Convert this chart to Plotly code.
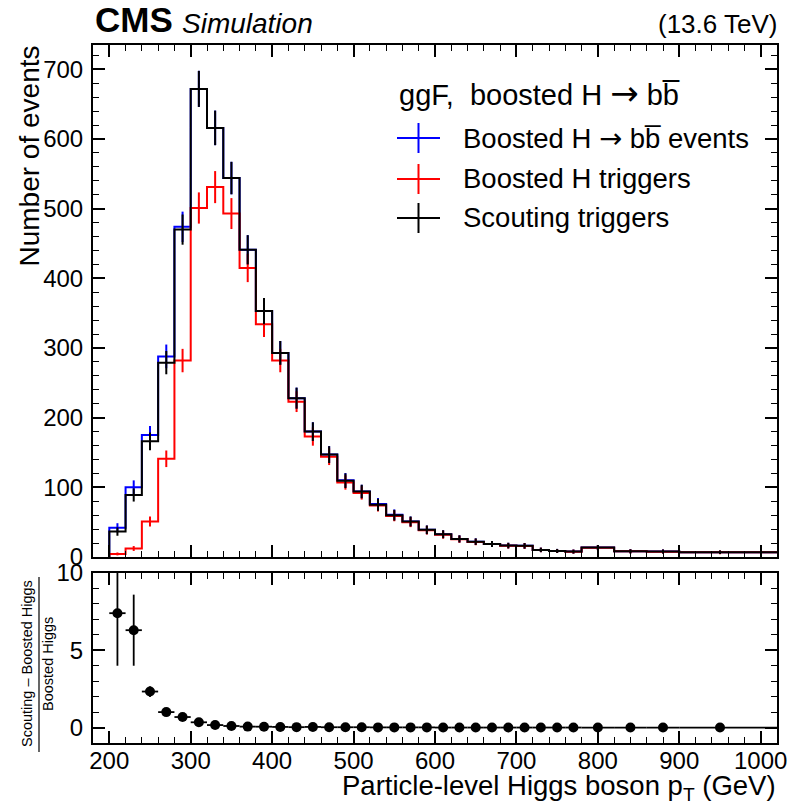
import plotly.graph_objects as go

# ---------------- data ----------------
bin_edges = [200, 220, 240, 260, 280, 300, 320, 340, 360, 380, 400, 420, 440, 460, 480,
             500, 520, 540, 560, 580, 600, 620, 640, 660, 680, 700, 720, 740, 760, 780,
             820, 860, 900, 1000]
x_max = 1020

boosted_events = [42, 100, 175, 288, 474, 672, 616, 544, 441, 353, 293, 228, 180, 147, 110,
                  94, 76, 60.5, 51, 39, 32.7, 26, 22, 18.8, 16.4, 16, 10.2, 8.7, 7.8,
                  13.5, 8.2, 7.8, 6.8]
boosted_events_err = [6.5, 10, 13.2, 17, 21.8, 25.9, 24.8, 23.3, 21, 18.8, 17.1, 15.1, 13.4,
                      12.1, 10.5, 9.7, 8.7, 7.8, 7.1, 6.2, 5.7, 5.1, 4.7, 4.3, 4, 4, 3.2,
                      2.9, 2.8, 3.7, 2.9, 2.8, 2.6]

boosted_trig = [4.4, 12.2, 51, 141, 282, 501, 531, 493, 415, 334, 282, 223, 173, 144, 107,
                92, 74, 59, 50, 38.5, 32, 25.5, 21.5, 18.5, 16.2, 15.8, 10.1, 8.6, 7.7,
                13.4, 8.1, 7.7, 6.7]
boosted_trig_err = [2.1, 3.5, 7.1, 11.9, 16.8, 22.4, 23, 22.2, 20.4, 18.3, 16.8, 14.9, 13.2,
                    12, 10.3, 9.6, 8.6, 7.7, 7.1, 6.2, 5.7, 5.1, 4.6, 4.3, 4, 4, 3.2,
                    2.9, 2.8, 3.7, 2.8, 2.8, 2.6]

scouting_trig = [36.5, 89, 166, 279, 470, 672, 616, 544, 441, 353, 293, 228, 180, 147, 109.5,
                 94, 75, 60, 51, 39, 32.7, 26, 22, 18.8, 16.4, 16, 10.2, 8.7, 7.8,
                 13.5, 8.2, 7.8, 6.8]
scouting_trig_err = [6, 9.4, 12.9, 16.7, 21.7, 25.9, 24.8, 23.3, 21, 18.8, 17.1, 15.1, 13.4,
                     12.1, 10.5, 9.7, 8.7, 7.7, 7.1, 6.2, 5.7, 5.1, 4.7, 4.3, 4, 4, 3.2,
                     2.9, 2.8, 3.7, 2.9, 2.8, 2.6]

ratio = [7.4, 6.3, 2.33, 1.0, 0.68, 0.34, 0.16, 0.10, 0.06, 0.055, 0.04, 0.025, 0.04, 0.02,
         0.02, 0.02, 0.01, 0.01, 0.01, 0.01, 0.0, 0.0, 0.0, 0.0, 0.0, 0.0, 0.0, 0.0, 0.0,
         0.0, 0.0, 0.0, 0.0]
ratio_err = [3.4, 2.3, 0.35, 0.15, 0.1, 0.06, 0.05, 0.04, 0.03, 0.03, 0.03, 0.02, 0.02, 0.02,
             0.02, 0.02, 0.02, 0.02, 0.02, 0.02, 0.02, 0.02, 0.02, 0.02, 0.02, 0.02, 0.02,
             0.02, 0.02, 0.02, 0.02, 0.02, 0.02]

x_ticks = [200, 300, 400, 500, 600, 700, 800, 900, 1000]
y_ticks = [0, 100, 200, 300, 400, 500, 600, 700]
ratio_ticks = [0, 5, 10]

# ---------------- helpers ----------------
centers = [(bin_edges[i] + bin_edges[i + 1]) / 2 for i in range(len(bin_edges) - 1)]
half_w = [(bin_edges[i + 1] - bin_edges[i]) / 2 for i in range(len(bin_edges) - 1)]
half_w_plus = half_w[:-1] + [x_max - centers[-1]]


def step_xy(vals):
    xs = [bin_edges[0]] + bin_edges[:-1] + [x_max]
    ys = [0] + list(vals) + [vals[-1]]
    return xs, ys


FONT = "Liberation Sans, Arial, Helvetica, sans-serif"
ARROW = '<span style="font-family:DejaVu Sans">\u2192</span>'
ARROW_BIG = '<span style="font-family:DejaVu Sans;font-size:34px">\u2192</span>'
fig = go.Figure()

series = [
    (boosted_events, boosted_events_err, "#0000ff"),
    (boosted_trig, boosted_trig_err, "#ff0000"),
    (scouting_trig, scouting_trig_err, "#000000"),
]
for vals, errs, col in series:
    xs, ys = step_xy(vals)
    fig.add_trace(go.Scatter(x=xs, y=ys, mode="lines", line=dict(color=col, width=2, shape="hv"),
                             xaxis="x", yaxis="y", showlegend=False, hoverinfo="skip"))
    fig.add_trace(go.Scatter(x=centers, y=vals, mode="markers", marker=dict(size=0.1, color=col),
                             error_y=dict(type="data", array=errs, color=col, thickness=2, width=0),
                             xaxis="x", yaxis="y", showlegend=False))

# ratio panel
fig.add_trace(go.Scatter(x=centers, y=ratio, mode="markers",
                         marker=dict(size=10, color="black", symbol="circle"),
                         error_y=dict(type="data", array=ratio_err, color="black", thickness=1.8, width=0),
                         error_x=dict(type="data", array=half_w_plus, arrayminus=half_w,
                                      color="black", thickness=1.8, width=0),
                         xaxis="x2", yaxis="y2", showlegend=False))

# ---------------- layout ----------------
L, R, T, B = 93, 13, 45, 61
W, H = 790, 804
pw, ph = W - L - R, H - T - B


def px(x):
    return (x - L) / pw


def py(y):
    return (H - B - y) / ph


axis_common = dict(
    showline=True, linewidth=2, linecolor="black", mirror="allticks",
    ticks="inside", ticklen=12, tickwidth=1.5, tickcolor="black",
    showgrid=False, zeroline=False, automargin=False,
    tickfont=dict(family=FONT, size=24, color="black"),
)
minor_common = dict(ticks="inside", ticklen=6, tickwidth=1.2, tickcolor="black", showgrid=False)

fig.update_layout(
    width=W, height=H,
    margin=dict(l=L, r=R, t=T, b=B, autoexpand=False),
    paper_bgcolor="white", plot_bgcolor="white",
    xaxis=dict(axis_common, range=[180, x_max], domain=[0, 1], anchor="y",
               tickvals=x_ticks, showticklabels=False, minor=dict(minor_common, dtick=20, tick0=0)),
    yaxis=dict(axis_common, range=[0, 735], domain=[py(557), 1], anchor="x",
               tickvals=y_ticks, minor=dict(minor_common, dtick=20, tick0=0),
               ticklabelstandoff=3),
    xaxis2=dict(axis_common, range=[180, x_max], domain=[0, 1], anchor="y2",
                tickvals=x_ticks, minor=dict(minor_common, dtick=20, tick0=0),
                ticklabelstandoff=-5),
    yaxis2=dict(axis_common, range=[-1, 10], domain=[0, py(573)], anchor="x2",
                tickvals=ratio_ticks, minor=dict(minor_common, dtick=1, tick0=0),
                ticklabelstandoff=3),
)

ann = []
# CMS labels
ann.append(dict(x=px(93), y=py(41), xref="paper", yref="paper", xanchor="left", yanchor="bottom",
                text="<b>CMS</b>", showarrow=False, font=dict(family=FONT, size=35, color="black")))
ann.append(dict(x=px(180), y=py(41), xref="paper", yref="paper", xanchor="left", yanchor="bottom",
                text="<i>Simulation</i>", showarrow=False, font=dict(family=FONT, size=28, color="black")))
ann.append(dict(x=px(779), y=py(41), xref="paper", yref="paper", xanchor="right", yanchor="bottom",
                text="(13.6 TeV)", showarrow=False, font=dict(family=FONT, size=26, color="black")))
# axis titles
ann.append(dict(x=px(29), y=py(44), xref="paper", yref="paper", xanchor="center", yanchor="top",
                text="Number of events", textangle=-90, showarrow=False,
                font=dict(family=FONT, size=28, color="black")))
ann.append(dict(x=px(778), y=py(787), xref="paper", yref="paper", xanchor="right", yanchor="middle",
                text="Particle-level Higgs boson p<sub>T</sub> (GeV)", showarrow=False,
                font=dict(family=FONT, size=27.5, color="black")))
# ratio y title (fraction)
ann.append(dict(x=px(27), y=py(664), xref="paper", yref="paper", xanchor="center", yanchor="middle",
                text="Scouting \u2013 Boosted Higgs", textangle=-90, showarrow=False,
                font=dict(family=FONT, size=14.5, color="black")))
ann.append(dict(x=px(48), y=py(664), xref="paper", yref="paper", xanchor="center", yanchor="middle",
                text="Boosted Higgs", textangle=-90, showarrow=False,
                font=dict(family=FONT, size=14.5, color="black")))
# legend
ann.append(dict(x=px(397), y=py(93), xref="paper", yref="paper", xanchor="left", yanchor="middle",
                text="ggF,  boosted H " + ARROW_BIG + " bb\u0305", showarrow=False,
                font=dict(family=FONT, size=29, color="black")))
leg = [("Boosted H " + ARROW + " bb\u0305 events", "#0000ff", 138),
       ("Boosted H triggers", "#ff0000", 179),
       ("Scouting triggers", "#000000", 218)]
shapes = []
for txt, col, yc in leg:
    ann.append(dict(x=px(461), y=py(yc), xref="paper", yref="paper", xanchor="left", yanchor="middle",
                    text=txt, showarrow=False, font=dict(family=FONT, size=27.5, color="black")))
    shapes.append(dict(type="line", xref="paper", yref="paper", x0=px(397), x1=px(440), y0=py(yc), y1=py(yc),
                       line=dict(color=col, width=2)))
    shapes.append(dict(type="line", xref="paper", yref="paper", x0=px(418.5), x1=px(418.5),
                       y0=py(yc - 15), y1=py(yc + 15), line=dict(color=col, width=2)))
# fraction bar
shapes.append(dict(type="line", xref="paper", yref="paper", x0=px(39), x1=px(39), y0=py(577), y1=py(752),
                   line=dict(color="black", width=1.2)))

fig.update_layout(annotations=ann, shapes=shapes)
fig.write_html("out.html")
